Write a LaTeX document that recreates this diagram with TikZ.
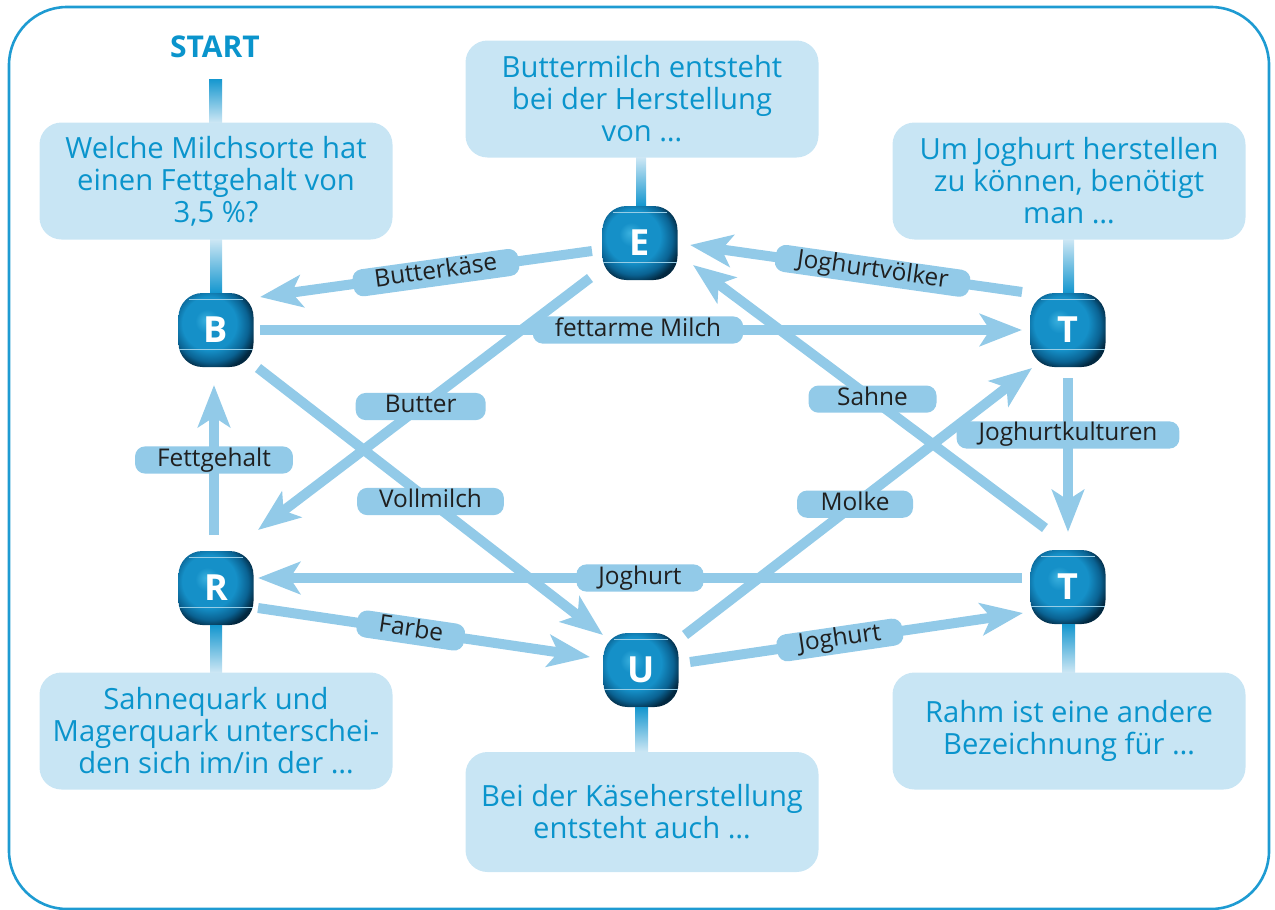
\documentclass[tikz,border=0pt]{standalone}
\usepackage{fontspec}
\setmainfont{Open Sans}
\usetikzlibrary{arrows.meta}

\definecolor{qblue}{HTML}{0A94CC}
\definecolor{boxfill}{HTML}{C8E5F4}
\definecolor{flowblue}{HTML}{92CAE8}
\definecolor{lbltext}{HTML}{1F1F1F}
\definecolor{frameblue}{HTML}{1E9BD2}
\definecolor{stubdark}{HTML}{1597CF}
\definecolor{stublight}{HTML}{CBE6F4}
\definecolor{tileA}{HTML}{3AB0DE}
\definecolor{tileB}{HTML}{1590C8}
\definecolor{tileC}{HTML}{0A6292}
\definecolor{tileD}{HTML}{022840}

% bounding box of the tile = inner 50bp square of the shading
\pgfdeclareradialshading{tileshade}{\pgfpoint{-7bp}{7bp}}{%
  color(0bp)=(tileA); color(8bp)=(tileB); color(18bp)=(tileB);
  color(25bp)=(tileC); color(30bp)=(tileD); color(50bp)=(tileD)}

\begin{document}
\begin{tikzpicture}[x=0.5pt, y=-0.5pt,
    question/.style={fill=boxfill, rounded corners=11pt, text=qblue, align=center,
      minimum width=176.5pt, minimum height=58.5pt, font=\fontsize{14.6}{16}\selectfont},
    tile/.style={shade, shading=tileshade, rounded corners=12pt, minimum width=37.5pt,
      minimum height=37pt, inner sep=0pt, text=white, font=\fontsize{18}{18}\selectfont\bfseries},
    tileline/.style={white!55!tileB, line width=0.4pt},
    flow/.style={draw=flowblue, line width=5pt, -{Stealth[length=21pt, width=16pt, inset=5pt]}},
    lbl/.style={fill=flowblue, rounded corners=5pt, text=lbltext, font=\fontsize{12.2}{12}\selectfont,
      text height=9pt, text depth=3pt, inner ysep=0.8pt, inner xsep=11pt}]

    \useasboundingbox (0,0) rectangle (1275,910);
    \draw[frameblue, line width=1.3pt, rounded corners=29pt] (9,7) rectangle (1269,909);

    % letter tiles
    \node[tile] (B) at (216,330) {B};
    \node[tile] (E) at (640,243) {E};
    \node[tile] (T1) at (1068,330) {T};
    \node[tile] (T2) at (1068,587) {T};
    \node[tile] (R) at (216,588) {R};
    \node[tile] (U) at (641,670) {U};
    \foreach \t in {B,E,T1,T2,R,U} {
        \draw[tileline] ([shift={(-27,-31)}]\t.center) -- ([shift={(27,-31)}]\t.center);
        \draw[tileline] ([shift={(-37,19)}]\t.center) -- ([shift={(37,19)}]\t.center);
    }

    % questions
    \node[text=qblue, font=\fontsize{15}{15}\selectfont\bfseries] (start) at (215,47) {START};
    \node[question] (q1) at (216,181) {Welche Milchsorte hat\\einen Fettgehalt von\\3,5 \%?};
    \node[question] (q2) at (642,99) {Buttermilch entsteht\\bei der Herstellung\\von …};
    \node[question] (q3) at (1069,181) {Um Joghurt herstellen\\zu können, benötigt\\man …};
    \node[question] (q4) at (216,731) {Sahnequark und\\Magerquark unterschei-\\den sich im/in der …};
    \node[question, minimum height=60pt] (q5) at (642,812) {Bei der Käseherstellung\\entsteht auch …};
    \node[question] (q6) at (1069,731) {Rahm ist eine andere\\Bezeichnung für …};

    % stubs between questions and tiles
    \shade[top color=stubdark, bottom color=stublight] ([shift={(-6,14)}]start.south) rectangle ([shift={(6,0)}]q1.north);
    \shade[top color=stublight, bottom color=stubdark] ([shift={(-6,0)}]q1.south) rectangle ([shift={(6,0)}]B.north);
    \shade[top color=stublight, bottom color=stubdark] ([shift={(-6,0)}]q2.south) rectangle ([shift={(6,0)}]E.north);
    \shade[top color=stublight, bottom color=stubdark] ([shift={(-6,0)}]q3.south) rectangle ([shift={(6,0)}]T1.north);
    \shade[top color=stubdark, bottom color=stublight] ([shift={(-6,0)}]R.south) rectangle ([shift={(6,0)}]q4.north);
    \shade[top color=stubdark, bottom color=stublight] ([shift={(-6,0)}]U.south) rectangle ([shift={(6,0)}]q5.north);
    \shade[top color=stubdark, bottom color=stublight] ([shift={(-6,0)}]T2.south) rectangle ([shift={(6,0)}]q6.north);

    % answers
    \draw[flow] ([shift={(-48,8)}]E.center) -- node[lbl, pos=0.47, sloped] {Butterkäse} ([shift={(44,-33)}]B.center);
    \draw[flow] ([shift={(44,0)}]B.center) -- node[lbl, pos=0.496] {fettarme Milch} ([shift={(-46,0)}]T1.center);
    \draw[flow] ([shift={(-46,-38)}]T1.center) -- node[lbl, pos=0.45, sloped] {Joghurtvölker} ([shift={(50,2)}]E.center);
    \draw[flow] ([shift={(-50,35)}]E.center) -- node[lbl, pos=0.51, minimum width=65pt] {Butter} ([shift={(42,-58)}]R.center);
    \draw[flow] ([shift={(42,38)}]B.center) -- node[lbl, pos=0.5] {Vollmilch} ([shift={(-38,-35)}]U.center);
    \draw[flow] ([shift={(-23,-59)}]T2.center) -- node[lbl, pos=0.49, minimum width=64pt] {Sahne} ([shift={(53,22)}]E.center);
    \draw[flow] ([shift={(44,-35)}]U.center) -- node[lbl, pos=0.49, minimum width=58pt] {Molke} ([shift={(-36,38)}]T1.center);
    \draw[flow] ([shift={(0,48)}]T1.center) -- node[lbl, pos=0.37] {Joghurtkulturen} ([shift={(0,-55)}]T2.center);
    \draw[flow] ([shift={(-2,-53)}]R.center) -- node[lbl, pos=0.5] {Fettgehalt} ([shift={(-2,55)}]B.center);
    \draw[flow] ([shift={(-46,-9)}]T2.center) -- node[lbl, pos=0.5] {Joghurt} ([shift={(42,-10)}]R.center);
    \draw[flow] ([shift={(42,20)}]R.center) -- node[lbl, pos=0.46, sloped] {Farbe} ([shift={(-51,-13)}]U.center);
    \draw[flow] ([shift={(49,-8)}]U.center) -- node[lbl, pos=0.45, sloped] {Joghurt} ([shift={(-45,26)}]T2.center);
\end{tikzpicture}
\end{document}
